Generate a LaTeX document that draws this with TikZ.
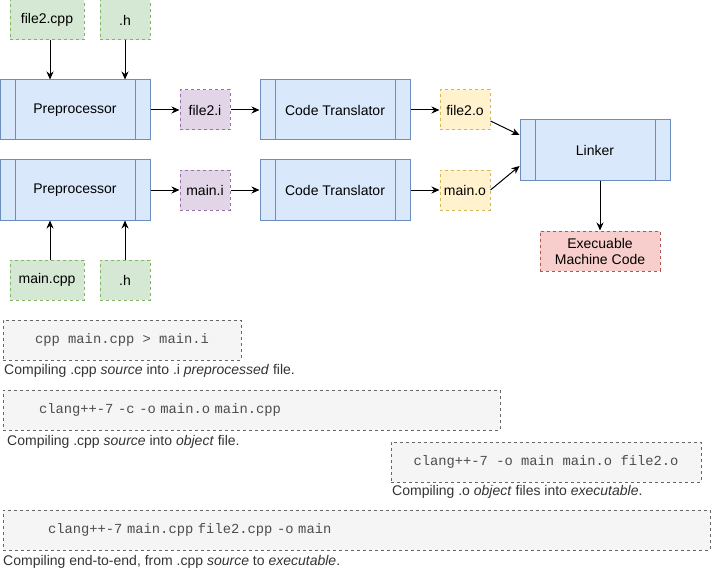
\documentclass[tikz,border=0pt]{standalone}
\usepackage{fontspec}
\setmainfont{Liberation Sans}
\setmonofont{Liberation Mono}
\usetikzlibrary{arrows.meta}

\definecolor{procfill}{HTML}{DAE8FC}
\definecolor{procline}{HTML}{6C8EBF}
\definecolor{srcfill}{HTML}{D5E8D4}
\definecolor{srcline}{HTML}{82B366}
\definecolor{prefill}{HTML}{E1D5E7}
\definecolor{preline}{HTML}{9673A6}
\definecolor{objfill}{HTML}{FFF2CC}
\definecolor{objline}{HTML}{D6B656}
\definecolor{exefill}{HTML}{F8CECC}
\definecolor{exeline}{HTML}{B85450}
\definecolor{cmdfill}{HTML}{F5F5F5}
\definecolor{cmdline}{HTML}{666666}
\definecolor{cmdtext}{HTML}{4D4D4D}
\definecolor{notetext}{HTML}{333333}

\tikzset{
  lbl/.style={font=\fontsize{14}{16}\selectfont},
  proc/.style={lbl, draw=procline, fill=procfill, line width=1pt,
    minimum width=150pt, minimum height=60pt,
    path picture={
      \draw[procline, line width=1pt]
        ([xshift=15pt]path picture bounding box.north west) -- ([xshift=15pt]path picture bounding box.south west)
        ([xshift=-15pt]path picture bounding box.north east) -- ([xshift=-15pt]path picture bounding box.south east);
    }},
  file/.style={lbl, line width=1pt, dash pattern=on 3pt off 3pt,
    minimum height=40pt, inner sep=0pt},
  src/.style={file, draw=srcline, fill=srcfill},
  pre/.style={file, draw=preline, fill=prefill, minimum width=50pt},
  obj/.style={file, draw=objline, fill=objfill, minimum width=50pt},
  exe/.style={file, draw=exeline, fill=exefill, minimum width=120pt, align=center},
  cmd/.style={draw=cmdline, fill=cmdfill, line width=1pt, dash pattern=on 3pt off 3pt,
    text=cmdtext, font=\ttfamily\fontsize{13.8}{15}\selectfont,
    minimum height=40pt, inner ysep=0pt},
  note/.style={lbl, text=notetext, anchor=west, inner sep=0pt},
  flow/.style={-{Stealth[length=8pt,width=7pt]}, line width=1pt},
}

\begin{document}
\begin{tikzpicture}[x=1pt, y=-1pt]
\useasboundingbox (0,0) rectangle (711,572);

% top chain: file2.cpp
\node[src, minimum width=74pt] (f2cpp) at (47,20) {file2.cpp};
\node[src, minimum width=50pt] (h1) at (125,20) {.h};
\node[proc] (pp1) at (75,110) {Preprocessor};
\node[pre] (i1) at (205,110) {file2.i};
\node[proc] (ct1) at (335,110) {Code Translator};
\node[obj] (o1) at (465,110) {file2.o};

% bottom chain: main.cpp
\node[proc] (pp2) at (75,190) {Preprocessor};
\node[pre] (i2) at (205,190) {main.i};
\node[proc] (ct2) at (335,190) {Code Translator};
\node[obj] (o2) at (465,190) {main.o};
\node[src, minimum width=74pt] (mcpp) at (47,280) {main.cpp};
\node[src, minimum width=50pt] (h2) at (125,280) {.h};

% linking
\node[proc] (lk) at (595,150) {Linker};
\node[exe] (ex) at (600,251) {Execuable\\Machine Code};

\draw[flow] ([xshift=3pt]f2cpp.south) -- ([xshift=3pt]f2cpp.south |- pp1.north);
\draw[flow] (h1) -- (h1 |- pp1.north);
\draw[flow] (pp1) -- (i1);
\draw[flow] (i1) -- (ct1);
\draw[flow] (ct1) -- (o1);
\draw[flow] ([xshift=3pt]mcpp.north) -- ([xshift=3pt]mcpp.north |- pp2.south);
\draw[flow] (h2) -- (h2 |- pp2.south);
\draw[flow] (pp2) -- (i2);
\draw[flow] (i2) -- (ct2);
\draw[flow] (ct2) -- (o2);
\draw[flow] ([yshift=-11pt]o1.east) -- ([yshift=15pt]lk.west);
\draw[flow] (o2.east) -- ([yshift=-16pt]lk.west);
\draw[flow] (lk.south -| ex.north) -- (ex.north);

% commands
\node[cmd, minimum width=238pt] (cmd1) at (122,340) {cpp main.cpp > main.i};
\node[note] (n1) at (4,371) {Compiling .cpp \textit{source} into .i \textit{preprocessed} file.};
\node[cmd, text width=425pt, align=left, inner xsep=36pt] (cmd2) at (251.5,410) {clang++-7 -c -o main.o main.cpp};
\node[note] (n2) at (7,442) {Compiling .cpp \textit{source} into \textit{object} file.};
\node[cmd, minimum width=310pt] (cmd3) at (546,462) {clang++-7 -o main main.o file2.o};
\node[note] (n3) at (392,492) {Compiling .o \textit{object} files into \textit{executable}.};
\node[cmd, text width=617pt, align=left, inner xsep=45pt] (cmd4) at (356.5,530) {clang++-7 main.cpp file2.cpp -o main};
\node[note] (n4) at (3,562) {Compiling end-to-end, from .cpp \textit{source} to \textit{executable}.};
\end{tikzpicture}
\end{document}
